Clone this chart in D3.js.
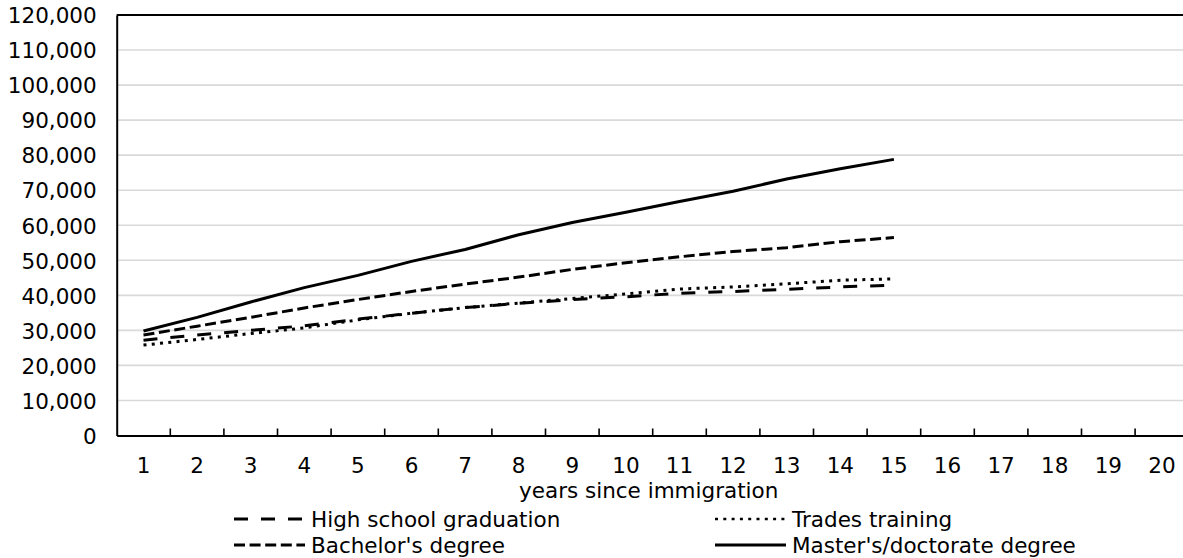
<!DOCTYPE html>
<html>
<head>
<meta charset="utf-8">
<script src="https://cdn.jsdelivr.net/npm/d3@7"></script>
<style>
  html, body { margin: 0; padding: 0; background: #fff; overflow: hidden; }
  svg { display: block; overflow: hidden; }
  text { font-family: "DejaVu Sans", Verdana, sans-serif; fill: #000; }
</style>
</head>
<body>
<svg id="chart" width="1183" height="558"></svg>
<script>
// ── Data ──
const years = d3.range(1, 21).map(String);
const yTicks = d3.range(0, 120001, 10000);

const highSchool = [27200, 28700, 30000, 31300, 33200, 34900, 36500, 37700, 38800, 39600, 40600, 41100, 41700, 42400, 42900];
const trades     = [25800, 27400, 29100, 30700, 33000, 34900, 36500, 37800, 39100, 40400, 41800, 42400, 43300, 44300, 44700];
const bachelors  = [28700, 31200, 33700, 36400, 38800, 41100, 43200, 45200, 47400, 49300, 51000, 52500, 53600, 55300, 56500];
const masters    = [29800, 33700, 38100, 42200, 45700, 49700, 53100, 57300, 60800, 63700, 66800, 69700, 73200, 76100, 78800];

const seriesNames = ["High school graduation", "Trades training", "Bachelor's degree", "Master's/doctorate degree"];
const seriesValues = [highSchool, trades, bachelors, masters];
const seriesDash = ["14,13", "3,5.3", "11,4.6", null];

// ── Layout ──
const svg = d3.select("#chart");
const plotLeft = 116.7, plotRight = 1188.7, plotTop = 15, plotBottom = 435.5;

const x = d3.scaleBand().domain(years).range([plotLeft, plotRight]).padding(0);
const y = d3.scaleLinear().domain([0, 120000]).range([plotBottom, plotTop]);

// gridlines
svg.append("g")
  .selectAll("line")
  .data(yTicks.filter(d => d > 0 && d < 120000))
  .join("line")
  .attr("x1", plotLeft).attr("x2", plotRight)
  .attr("y1", d => y(d)).attr("y2", d => y(d))
  .attr("stroke", "#d9d9d9")
  .attr("stroke-width", 1.6);

// plot border, top edge (the right edge falls outside the window)
svg.append("line")
  .attr("x1", plotLeft).attr("x2", plotRight)
  .attr("y1", plotTop).attr("y2", plotTop)
  .attr("stroke", "#000")
  .attr("stroke-width", 2);

// ── Axes ──
const yAxis = svg.append("g")
  .attr("transform", `translate(${plotLeft},0)`)
  .call(d3.axisLeft(y).tickValues(yTicks).tickFormat(d3.format(",")).tickSize(0).tickPadding(20));
yAxis.select(".domain").attr("stroke", "#000").attr("stroke-width", 2);
yAxis.selectAll("text").style("font-size", "21.5px").attr("dy", "0.36em");

const xAxis = svg.append("g")
  .attr("transform", `translate(0,${plotBottom})`)
  .call(d3.axisBottom(x).tickSize(0).tickPadding(20));
xAxis.select(".domain").attr("stroke", "#000").attr("stroke-width", 2.2);
xAxis.selectAll("text").style("font-size", "21.5px").attr("dy", "0.36em").attr("y", 30);

// category boundary ticks (pointing up)
svg.append("g")
  .selectAll("line")
  .data(years.slice(1))
  .join("line")
  .attr("x1", d => x(d)).attr("x2", d => x(d))
  .attr("y1", plotBottom).attr("y2", plotBottom - 7)
  .attr("stroke", "#000")
  .attr("stroke-width", 1.6);

// axis title
svg.append("text")
  .attr("x", (plotLeft + plotRight) / 2 - 4)
  .attr("y", 490)
  .attr("dy", "0.36em")
  .attr("text-anchor", "middle")
  .style("font-size", "21.5px")
  .text("years since immigration");

// ── Lines ──
const line = d3.line()
  .x((d, i) => x(years[i]) + x.bandwidth() / 2)
  .y(d => y(d));

svg.append("g")
  .selectAll("path")
  .data(seriesValues)
  .join("path")
  .attr("d", line)
  .attr("fill", "none")
  .attr("stroke", "#000")
  .attr("stroke-width", 3)
  .attr("stroke-linejoin", "round")
  .attr("stroke-dasharray", (d, i) => seriesDash[i]);

// ── Legend ──
const legendPos = [
  { x: 234, y: 519 }, { x: 715, y: 519 },
  { x: 234, y: 545 }, { x: 715, y: 545 }
];

const legend = svg.append("g")
  .selectAll("g")
  .data(seriesNames)
  .join("g")
  .attr("transform", (d, i) => `translate(${legendPos[i].x},${legendPos[i].y})`);

legend.append("line")
  .attr("x1", 0).attr("x2", 71)
  .attr("y1", 0).attr("y2", 0)
  .attr("stroke", "#000")
  .attr("stroke-width", (d, i) => i === 1 ? 2.4 : 3)
  .attr("stroke-dasharray", (d, i) => seriesDash[i]);

legend.append("text")
  .attr("x", 77)
  .attr("dy", "0.36em")
  .style("font-size", "21.5px")
  .text(d => d);
</script>
</body>
</html>
